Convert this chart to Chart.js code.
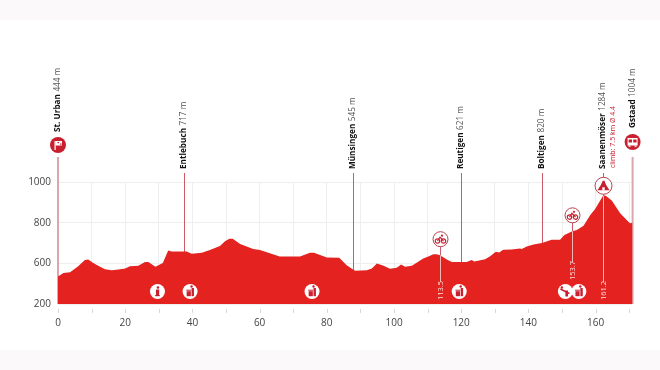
<!DOCTYPE html>
<html>
<head>
<meta charset="utf-8">
<script src="https://cdn.jsdelivr.net/npm/chart.js@4"></script>
<style>
  html, body { margin: 0; padding: 0; background: #fff; }
  #page { position: relative; width: 660px; height: 370px; overflow: hidden; }
  .band { position: absolute; left: 0; width: 660px; height: 20px; background: #fbf9f9; }
  canvas { position: absolute; left: 0; top: 0; }
</style>
</head>
<body>
<div id="page">
  <div class="band" style="top:0"></div>
  <div class="band" style="top:350px"></div>
  <canvas id="myChart" width="660" height="370"></canvas>
</div>
<script>
// Profile: distance in km, height on the axis as drawn
const profileKm = [0, 0.5, 1.6, 3.6, 6, 8, 9, 10.5, 12.5, 14, 16, 18, 20, 21.4, 23.9, 25.9, 26.9, 29, 31.2, 32.8, 33.8, 38.3, 39.8, 42.8, 45.2, 48.2, 49.7, 51, 52, 54.2, 58.1, 60.1, 66, 72, 75, 76.2, 80, 83.7, 85.9, 88.4, 91.9, 93.4, 94.9, 96.9, 98.8, 100.8, 102.1, 103.3, 105.3, 108.7, 110.2, 111.7, 112.7, 113.7, 115.7, 117.2, 119.6, 121.6, 123.1, 123.9, 127.1, 128.6, 130.3, 131.3, 132.5, 135, 137.5, 138, 139.5, 141.5, 144, 146.9, 149.4, 150.7, 152.9, 154.4, 156.4, 158.4, 159.8, 162.3, 163, 164.8, 167.3, 170.2, 171];
const profileHeight = [537, 540, 553, 556, 586, 616, 619, 602, 583, 571, 566, 570, 574, 586, 588, 607, 606, 583, 602, 663, 658, 658, 647, 652, 665, 685, 709, 721, 721, 695, 670, 665, 634, 634, 652, 652, 629, 627, 591, 563, 566, 574, 599, 588, 573, 578, 594, 583, 588, 624, 634, 645, 645, 640, 619, 606, 607, 607, 617, 609, 620, 635, 657, 653, 667, 668, 673, 670, 683, 693, 700, 716, 716, 739, 757, 764, 785, 838, 866, 935, 932, 909, 846, 797, 800];

// Axis labels are not evenly valued in the source: the bottom step is 200 to 600
const yTickLabels = ['200', '600', '800', '1000'];

// Places along the route
const placeNames = ['St. Urban', 'Entlebuch', 'Münsingen', 'Reutigen', 'Boltigen', 'Saanenmöser', 'Gstaad'];
const placeHeights = ['444 m', '717 m', '545 m', '621 m', '820 m', '1284 m', '1004 m'];
const placeKm = [0, 37.4, 87.8, 119.9, 144, 162.2, 171];
const climbNote = 'climb: 7.5 km Ø 4.4';

// Sprint and climb points
const pointKm = [113.7, 153, 162.2];
const pointLabels = ['113.5', '153.7', '161.2'];
const pointIcons = ['bike', 'bike', 'mountain'];

// Service icons along the bottom
const serviceKm = [29.6, 39.3, 75.6, 119.4, 151, 155];
const serviceIcons = ['info', 'litter', 'litter', 'litter', 'nolitter', 'litter'];

const red = '#e42320';
const darkRed = '#c8202f';
const font = '"Open Sans", sans-serif';

function drawBike(c) {
  c.strokeStyle = darkRed;
  c.lineWidth = 1.2;
  c.beginPath(); c.arc(-3, 1.8, 2.2, 0, Math.PI * 2); c.stroke();
  c.beginPath(); c.arc(3, 1.8, 2.2, 0, Math.PI * 2); c.stroke();
  c.beginPath(); c.moveTo(-3, 1.8); c.lineTo(-0.5, -2); c.lineTo(3, 1.8); c.stroke();
  c.fillStyle = darkRed;
  c.beginPath(); c.arc(1.5, -3.5, 1.1, 0, Math.PI * 2); c.fill();
}

function drawMountain(c) {
  c.fillStyle = darkRed;
  c.beginPath(); c.moveTo(-6, 4.5); c.lineTo(-2.5, -1); c.lineTo(-0.8, -5); c.lineTo(1, -5); c.lineTo(2.5, -1); c.lineTo(6, 4.5); c.closePath(); c.fill();
  c.fillStyle = '#fff';
  c.fillRect(-1.2, 1.5, 2.4, 3);
}

function drawFlag(c) {
  c.fillStyle = '#fff';
  c.fillRect(-3.5, -4, 1.2, 9);
  c.fillRect(-2.5, -4, 6.5, 4.5);
  c.fillStyle = darkRed;
  c.fillRect(-0.5, -3, 1.5, 1.2);
  c.fillRect(2, -1.5, 1.5, 1.2);
}

function drawBus(c) {
  c.fillStyle = '#fff';
  c.fillRect(-5, -4, 10, 7.5);
  c.fillRect(-4, 3.5, 2, 1.3);
  c.fillRect(2, 3.5, 2, 1.3);
  c.fillStyle = darkRed;
  c.fillRect(-4, -2.5, 3.4, 3);
  c.fillRect(0.6, -2.5, 3.4, 3);
}

function drawInfo(c) {
  c.fillStyle = darkRed;
  c.beginPath(); c.arc(0.5, -4, 1.3, 0, Math.PI * 2); c.fill();
  c.fillRect(-1.5, -2, 3.2, 6.5);
  c.fillRect(-2.3, 3.5, 4.6, 1.2);
}

function drawLitter(c) {
  c.fillStyle = darkRed;
  c.beginPath(); c.arc(1.5, -5, 1.2, 0, Math.PI * 2); c.fill();
  c.fillRect(-3.8, -1.8, 5, 1);
  c.fillRect(-3.4, -0.3, 4.2, 5);
  c.fillRect(1.5, -3.5, 2.4, 8.2);
}

function drawNoLitter(c) {
  c.fillStyle = darkRed;
  c.beginPath(); c.arc(-3.5, -4, 1.2, 0, Math.PI * 2); c.fill();
  c.fillRect(0, -1, 2.6, 6);
  c.strokeStyle = darkRed;
  c.lineWidth = 1.4;
  c.beginPath(); c.moveTo(-5, -2.5); c.lineTo(4, 2); c.stroke();
}

const iconDrawers = { bike: drawBike, mountain: drawMountain, info: drawInfo, litter: drawLitter, nolitter: drawNoLitter };

function heightAt(km) {
  for (let i = 1; i < profileKm.length; i++) {
    if (km <= profileKm[i]) {
      const t = (km - profileKm[i - 1]) / (profileKm[i] - profileKm[i - 1]);
      return profileHeight[i - 1] + t * (profileHeight[i] - profileHeight[i - 1]);
    }
  }
  return profileHeight[profileHeight.length - 1];
}

function rotatedText(c, x, y, parts) {
  c.save();
  c.translate(x, y);
  c.rotate(-Math.PI / 2);
  c.textAlign = 'left';
  c.textBaseline = 'middle';
  let offset = 0;
  parts.forEach(p => {
    c.font = p.font;
    c.fillStyle = p.color;
    c.fillText(p.text, offset, 0);
    offset += c.measureText(p.text).width + 2.5;
  });
  c.restore();
}

// Vertical lines for the places sit behind the red fill
const placeLines = {
  id: 'placeLines',
  beforeDatasetsDraw(chart) {
    const c = chart.ctx;
    const x = chart.scales.x;
    const bottom = chart.chartArea.bottom;
    placeKm.forEach((km, i) => {
      const ends = i === 0 || i === placeKm.length - 1;
      const px = ends ? x.getPixelForValue(km) : Math.round(x.getPixelForValue(km)) + 0.5;
      c.strokeStyle = ends ? '#dba6ae' : '#cc5a68';
      c.lineWidth = ends ? 2 : 1;
      c.beginPath();
      c.moveTo(px, ends ? 157 : 173);
      c.lineTo(px, bottom);
      c.stroke();
    });
  }
};

// Labels, circles and the small axis ticks go on top
const routeMarks = {
  id: 'routeMarks',
  afterDatasetsDraw(chart) {
    const c = chart.ctx;
    const x = chart.scales.x;
    const y = chart.scales.y;
    const bottom = chart.chartArea.bottom;

    c.strokeStyle = '#d8d8d8';
    c.lineWidth = 1;
    x.ticks.forEach(t => {
      const px = Math.round(x.getPixelForValue(t.value)) + 0.5;
      c.beginPath(); c.moveTo(px, bottom + 5); c.lineTo(px, bottom + 9); c.stroke();
    });

    placeNames.forEach((name, i) => {
      const px = x.getPixelForValue(placeKm[i]);
      const ends = i === 0 || i === placeKm.length - 1;
      const base = i === 0 ? 132 : (i === placeKm.length - 1 ? 128 : 169);
      rotatedText(c, px, base, [
        { text: name, font: 'bold 8.2px ' + font, color: '#111' },
        { text: placeHeights[i], font: '8.2px ' + font, color: '#555' }
      ]);
      if (ends) {
        const cy = i === 0 ? 145 : 142;
        c.fillStyle = darkRed;
        c.beginPath(); c.arc(px, cy, 8, 0, Math.PI * 2); c.fill();
        c.save();
        c.translate(px, cy);
        if (i === 0) drawFlag(c); else drawBus(c);
        c.restore();
      }
    });

    rotatedText(c, x.getPixelForValue(162.2) + 9.5, 168, [
      { text: climbNote, font: '7px ' + font, color: darkRed }
    ]);

    pointKm.forEach((km, i) => {
      const px = Math.round(x.getPixelForValue(km)) + 0.5;
      const isSummit = pointIcons[i] === 'mountain';
      const profileY = y.getPixelForValue(heightAt(km));
      const cy = isSummit ? profileY - 10 : profileY - 16;
      const labelEnd = i === 1 ? 280 : 300;
      c.lineWidth = 1;
      c.strokeStyle = '#cc5a68';
      c.beginPath(); c.moveTo(px, cy); c.lineTo(px, profileY); c.stroke();
      c.strokeStyle = '#f3b9b5';
      c.beginPath(); c.moveTo(px, profileY); c.lineTo(px, labelEnd - 18); c.stroke();
      rotatedText(c, px, labelEnd, [{ text: pointLabels[i], font: '7.5px ' + font, color: '#fbdcda' }]);
      c.fillStyle = '#fff';
      c.strokeStyle = '#b8404c';
      c.lineWidth = 1;
      c.beginPath(); c.arc(px, cy, isSummit ? 8.5 : 7.5, 0, Math.PI * 2); c.fill(); c.stroke();
      c.save();
      c.translate(px, cy);
      iconDrawers[pointIcons[i]](c);
      c.restore();
    });

    serviceKm.forEach((km, i) => {
      const px = x.getPixelForValue(km);
      c.fillStyle = '#fff';
      c.beginPath(); c.arc(px, bottom - 12.5, 7.5, 0, Math.PI * 2); c.fill();
      c.save();
      c.translate(px, bottom - 12.5);
      iconDrawers[serviceIcons[i]](c);
      c.restore();
    });
  }
};

const ctx = document.getElementById('myChart').getContext('2d');
const myChart = new Chart(ctx, {
  type: 'line',
  data: {
    datasets: [{
      data: profileKm.map((km, i) => ({ x: km, y: profileHeight[i] })),
      borderWidth: 0,
      pointRadius: 0,
      tension: 0,
      backgroundColor: red,
      fill: 'start'
    }]
  },
  options: {
    responsive: false,
    animation: false,
    layout: { padding: { top: 182, right: 27.4, left: 0, bottom: 0 } },
    plugins: { legend: { display: false }, tooltip: { enabled: false } },
    scales: {
      x: {
        type: 'linear',
        min: 0,
        max: 171,
        afterFit: scale => { scale.height = 66; },
        grid: { color: '#eeeeee', drawTicks: false },
        border: { display: false },
        ticks: {
          stepSize: 10,
          includeBounds: false,
          autoSkip: false,
          maxRotation: 0,
          padding: 13,
          color: '#444',
          font: { family: font, size: 10 },
          callback: value => (value % 20 === 0 ? String(value) : '')
        }
      },
      y: {
        min: 400,
        max: 1000,
        afterFit: scale => { scale.width = 58; },
        grid: { color: '#eeeeee', drawTicks: false },
        border: { display: false },
        ticks: {
          stepSize: 200,
          padding: 7,
          color: '#444',
          font: { family: font, size: 10 },
          callback: (value, index) => yTickLabels[index]
        }
      }
    }
  },
  plugins: [placeLines, routeMarks]
});
</script>
</body>
</html>
